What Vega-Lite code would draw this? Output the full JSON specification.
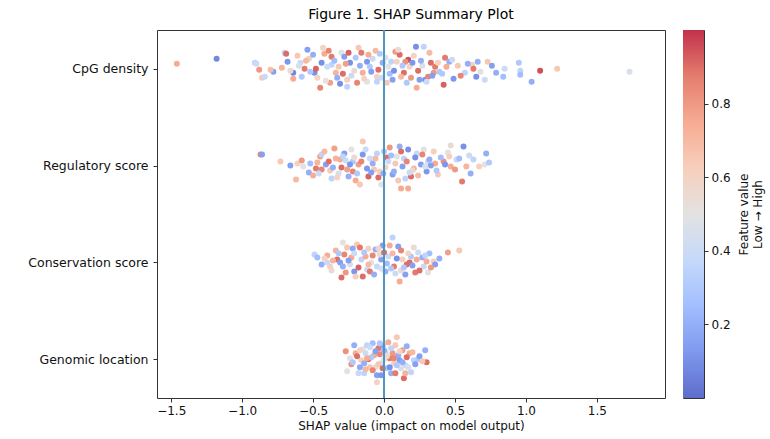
{
  "$schema": "https://vega.github.io/schema/vega-lite/v6.json",
  "autosize": {"type": "pad"},
  "padding": {"left": 27, "top": 7, "right": 5, "bottom": 5},
  "bounds": "flush",
  "spacing": 18,
  "config": {
    "font": "DejaVu Sans",
    "view": {"stroke": "#333333", "strokeWidth": 1},
    "axis": {"grid": false, "domain": false, "tickColor": "#333333", "tickSize": 4, "labelColor": "#111111", "titleColor": "#111111", "labelFontSize": 12, "titleFontSize": 12, "titleFontWeight": "normal"}
  },
  "datasets": {
    "shap": [
    {"f":"CpG density","x":-1.46,"j":-5,"v":0.75},{"f":"CpG density","x":-1.18,"j":-10,"v":0.08},{"f":"CpG density","x":-0.91,"j":-6,"v":0.35},{"f":"CpG density","x":-0.90,"j":-5,"v":0.4},{"f":"CpG density","x":-0.88,"j":1,"v":0.8},{"f":"CpG density","x":-0.86,"j":9,"v":0.65},{"f":"CpG density","x":-0.84,"j":8,"v":0.38},{"f":"CpG density","x":-0.78,"j":3,"v":0.15},{"f":"CpG density","x":-0.80,"j":1,"v":0.68},{"f":"CpG density","x":-0.72,"j":-1,"v":0.72},
    {"f":"CpG density","x":-0.70,"j":-16,"v":0.35},{"f":"CpG density","x":-0.69,"j":-15,"v":0.9},{"f":"CpG density","x":-0.68,"j":-7,"v":0.12},{"f":"CpG density","x":-0.64,"j":4,"v":0.08},{"f":"CpG density","x":-0.64,"j":10,"v":0.75},{"f":"CpG density","x":-0.61,"j":-13,"v":0.65},{"f":"CpG density","x":-0.59,"j":-6,"v":0.4},{"f":"CpG density","x":-0.56,"j":0,"v":0.88},{"f":"CpG density","x":-0.54,"j":-19,"v":0.15},{"f":"CpG density","x":-0.53,"j":-10,"v":0.62},
    {"f":"CpG density","x":-0.49,"j":4,"v":0.1},{"f":"CpG density","x":-0.48,"j":0,"v":0.92},{"f":"CpG density","x":-0.45,"j":19,"v":0.85},{"f":"CpG density","x":-0.43,"j":-21,"v":0.6},{"f":"CpG density","x":-0.42,"j":-15,"v":0.75},{"f":"CpG density","x":-0.38,"j":14,"v":0.78},{"f":"CpG density","x":-0.37,"j":-12,"v":0.88},{"f":"CpG density","x":-0.37,"j":-4,"v":0.35},{"f":"CpG density","x":-0.34,"j":4,"v":0.72},{"f":"CpG density","x":-0.30,"j":-16,"v":0.5},
    {"f":"CpG density","x":-0.29,"j":5,"v":0.9},{"f":"CpG density","x":-0.28,"j":-12,"v":0.15},{"f":"CpG density","x":-0.26,"j":18,"v":0.35},{"f":"CpG density","x":-0.26,"j":11,"v":0.62},{"f":"CpG density","x":-0.25,"j":-16,"v":0.92},{"f":"CpG density","x":-0.24,"j":-6,"v":0.1},{"f":"CpG density","x":-0.18,"j":-21,"v":0.65},{"f":"CpG density","x":-0.16,"j":-16,"v":0.88},{"f":"CpG density","x":-0.15,"j":4,"v":0.74},{"f":"CpG density","x":-0.12,"j":-7,"v":0.12},
    {"f":"CpG density","x":-0.12,"j":13,"v":0.5},{"f":"CpG density","x":-0.08,"j":-10,"v":0.4},{"f":"CpG density","x":-0.05,"j":8,"v":0.62},{"f":"CpG density","x":-0.03,"j":-15,"v":0.3},{"f":"CpG density","x":-0.01,"j":-6,"v":0.2},{"f":"CpG density","x":0.01,"j":-11,"v":0.45},{"f":"CpG density","x":0.03,"j":-2,"v":0.5},{"f":"CpG density","x":0.06,"j":11,"v":0.15},{"f":"CpG density","x":0.08,"j":-17,"v":0.8},{"f":"CpG density","x":0.09,"j":-7,"v":0.6},
    {"f":"CpG density","x":0.11,"j":-14,"v":0.9},{"f":"CpG density","x":0.14,"j":4,"v":0.9},{"f":"CpG density","x":0.16,"j":14,"v":0.3},{"f":"CpG density","x":0.17,"j":-9,"v":0.95},{"f":"CpG density","x":0.18,"j":-2,"v":0.6},{"f":"CpG density","x":0.20,"j":-6,"v":0.12},{"f":"CpG density","x":0.225,"j":-22,"v":0.1},{"f":"CpG density","x":0.23,"j":19,"v":0.75},{"f":"CpG density","x":0.25,"j":11,"v":0.15},{"f":"CpG density","x":0.28,"j":-22,"v":0.35},
    {"f":"CpG density","x":0.29,"j":11,"v":0.1},{"f":"CpG density","x":0.31,"j":8,"v":0.85},{"f":"CpG density","x":0.33,"j":-6,"v":0.9},{"f":"CpG density","x":0.36,"j":-2,"v":0.88},{"f":"CpG density","x":0.39,"j":3,"v":0.3},{"f":"CpG density","x":0.42,"j":16,"v":0.92},{"f":"CpG density","x":0.43,"j":-11,"v":0.88},{"f":"CpG density","x":0.46,"j":-7,"v":0.2},{"f":"CpG density","x":0.49,"j":10,"v":0.12},{"f":"CpG density","x":0.52,"j":-3,"v":0.65},
    {"f":"CpG density","x":0.57,"j":4,"v":0.35},{"f":"CpG density","x":0.62,"j":-4,"v":0.6},{"f":"CpG density","x":0.63,"j":0,"v":0.88},{"f":"CpG density","x":0.65,"j":8,"v":0.1},{"f":"CpG density","x":0.66,"j":-7,"v":0.2},{"f":"CpG density","x":0.71,"j":11,"v":0.4},{"f":"CpG density","x":0.73,"j":-7,"v":0.65},{"f":"CpG density","x":0.79,"j":4,"v":0.2},{"f":"CpG density","x":0.84,"j":8,"v":0.25},{"f":"CpG density","x":0.85,"j":0,"v":0.4},
    {"f":"CpG density","x":0.95,"j":-6,"v":0.3},{"f":"CpG density","x":0.96,"j":2,"v":0.35},{"f":"CpG density","x":0.96,"j":6,"v":0.25},{"f":"CpG density","x":1.04,"j":13,"v":0.2},{"f":"CpG density","x":1.10,"j":2,"v":0.95},{"f":"CpG density","x":1.22,"j":0,"v":0.65},{"f":"CpG density","x":1.73,"j":3,"v":0.45},{"f":"CpG density","x":-0.52,"j":3,"v":0.3},{"f":"CpG density","x":-0.40,"j":-2,"v":0.4},{"f":"CpG density","x":-0.33,"j":9,"v":0.2},
    {"f":"CpG density","x":-0.21,"j":2,"v":0.55},{"f":"CpG density","x":-0.10,"j":-2,"v":0.3},{"f":"CpG density","x":0.04,"j":5,"v":0.25},{"f":"CpG density","x":0.12,"j":8,"v":0.7},{"f":"CpG density","x":0.27,"j":-3,"v":0.45},{"f":"CpG density","x":-0.60,"j":-3,"v":0.45},{"f":"CpG density","x":0.35,"j":4,"v":0.8},{"f":"CpG density","x":-0.05,"j":13,"v":0.35},{"f":"CpG density","x":0.15,"j":-7,"v":0.82},
    {"f":"CpG density","x":-0.66,"j":2,"v":0.55},{"f":"CpG density","x":-0.58,"j":8,"v":0.3},{"f":"CpG density","x":-0.55,"j":-8,"v":0.7},{"f":"CpG density","x":-0.50,"j":-14,"v":0.2},{"f":"CpG density","x":-0.47,"j":9,"v":0.6},{"f":"CpG density","x":-0.44,"j":-6,"v":0.1},{"f":"CpG density","x":-0.41,"j":12,"v":0.5},{"f":"CpG density","x":-0.39,"j":-18,"v":0.85},{"f":"CpG density","x":-0.35,"j":-8,"v":0.25},{"f":"CpG density","x":-0.32,"j":-2,"v":0.65},
    {"f":"CpG density","x":-0.31,"j":15,"v":0.1},{"f":"CpG density","x":-0.27,"j":-5,"v":0.78},{"f":"CpG density","x":-0.23,"j":7,"v":0.4},{"f":"CpG density","x":-0.20,"j":-11,"v":0.3},{"f":"CpG density","x":-0.19,"j":14,"v":0.85},{"f":"CpG density","x":-0.17,"j":-3,"v":0.2},{"f":"CpG density","x":-0.14,"j":10,"v":0.6},{"f":"CpG density","x":-0.11,"j":-14,"v":0.75},{"f":"CpG density","x":-0.09,"j":3,"v":0.15},{"f":"CpG density","x":-0.06,"j":-18,"v":0.7},
    {"f":"CpG density","x":-0.04,"j":1,"v":0.9},{"f":"CpG density","x":-0.02,"j":9,"v":0.4},{"f":"CpG density","x":0.02,"j":14,"v":0.65},{"f":"CpG density","x":0.05,"j":-7,"v":0.35},{"f":"CpG density","x":0.07,"j":2,"v":0.1},{"f":"CpG density","x":0.10,"j":-19,"v":0.55},{"f":"CpG density","x":0.13,"j":-3,"v":0.3},{"f":"CpG density","x":0.19,"j":9,"v":0.8},{"f":"CpG density","x":0.21,"j":-13,"v":0.6},{"f":"CpG density","x":0.24,"j":2,"v":0.9},
    {"f":"CpG density","x":0.26,"j":-8,"v":0.2},{"f":"CpG density","x":0.30,"j":13,"v":0.4},{"f":"CpG density","x":0.32,"j":-16,"v":0.7},{"f":"CpG density","x":0.34,"j":7,"v":0.15},{"f":"CpG density","x":0.38,"j":-6,"v":0.6},{"f":"CpG density","x":0.41,"j":5,"v":0.3},{"f":"CpG density","x":0.44,"j":-2,"v":0.75},{"f":"CpG density","x":0.48,"j":-9,"v":0.4},{"f":"CpG density","x":0.54,"j":7,"v":0.85},{"f":"CpG density","x":0.59,"j":-5,"v":0.2},
    {"f":"CpG density","x":0.68,"j":3,"v":0.5},{"f":"CpG density","x":0.76,"j":-3,"v":0.15},

    {"f":"Regulatory score","x":-0.87,"j":-11,"v":0.85},{"f":"Regulatory score","x":-0.86,"j":-11,"v":0.15},{"f":"Regulatory score","x":-0.73,"j":-4,"v":0.65},{"f":"Regulatory score","x":-0.66,"j":0,"v":0.15},{"f":"Regulatory score","x":-0.62,"j":14,"v":0.7},{"f":"Regulatory score","x":-0.61,"j":-2,"v":0.62},{"f":"Regulatory score","x":-0.57,"j":1,"v":0.5},{"f":"Regulatory score","x":-0.53,"j":7,"v":0.2},{"f":"Regulatory score","x":-0.50,"j":10,"v":0.75},{"f":"Regulatory score","x":-0.48,"j":3,"v":0.88},
    {"f":"Regulatory score","x":-0.47,"j":-3,"v":0.72},{"f":"Regulatory score","x":-0.45,"j":-9,"v":0.78},{"f":"Regulatory score","x":-0.44,"j":-11,"v":0.35},{"f":"Regulatory score","x":-0.41,"j":-1,"v":0.15},{"f":"Regulatory score","x":-0.38,"j":5,"v":0.65},{"f":"Regulatory score","x":-0.37,"j":13,"v":0.35},{"f":"Regulatory score","x":-0.35,"j":-17,"v":0.78},{"f":"Regulatory score","x":-0.34,"j":-7,"v":0.72},{"f":"Regulatory score","x":-0.31,"j":-6,"v":0.75},{"f":"Regulatory score","x":-0.30,"j":2,"v":0.9},
    {"f":"Regulatory score","x":-0.28,"j":-12,"v":0.15},{"f":"Regulatory score","x":-0.27,"j":-5,"v":0.4},{"f":"Regulatory score","x":-0.25,"j":11,"v":0.2},{"f":"Regulatory score","x":-0.23,"j":-16,"v":0.5},{"f":"Regulatory score","x":-0.22,"j":6,"v":0.85},{"f":"Regulatory score","x":-0.20,"j":15,"v":0.75},{"f":"Regulatory score","x":-0.18,"j":-1,"v":0.78},{"f":"Regulatory score","x":-0.17,"j":19,"v":0.65},{"f":"Regulatory score","x":-0.15,"j":-24,"v":0.65},{"f":"Regulatory score","x":-0.15,"j":-11,"v":0.12},
    {"f":"Regulatory score","x":-0.12,"j":3,"v":0.12},{"f":"Regulatory score","x":-0.11,"j":11,"v":0.92},{"f":"Regulatory score","x":-0.10,"j":-7,"v":0.4},{"f":"Regulatory score","x":-0.08,"j":-2,"v":0.2},{"f":"Regulatory score","x":-0.05,"j":-12,"v":0.35},{"f":"Regulatory score","x":-0.03,"j":6,"v":0.62},{"f":"Regulatory score","x":-0.02,"j":19,"v":0.5},{"f":"Regulatory score","x":-0.005,"j":8,"v":0.2},{"f":"Regulatory score","x":0.02,"j":-8,"v":0.9},{"f":"Regulatory score","x":0.03,"j":-4,"v":0.4},
    {"f":"Regulatory score","x":0.06,"j":9,"v":0.15},{"f":"Regulatory score","x":0.08,"j":-2,"v":0.65},{"f":"Regulatory score","x":0.11,"j":-19,"v":0.2},{"f":"Regulatory score","x":0.12,"j":-14,"v":0.9},{"f":"Regulatory score","x":0.12,"j":23,"v":0.75},{"f":"Regulatory score","x":0.14,"j":-7,"v":0.35},{"f":"Regulatory score","x":0.15,"j":13,"v":0.35},{"f":"Regulatory score","x":0.17,"j":-16,"v":0.1},{"f":"Regulatory score","x":0.17,"j":23,"v":0.75},{"f":"Regulatory score","x":0.19,"j":11,"v":0.9},
    {"f":"Regulatory score","x":0.21,"j":3,"v":0.72},{"f":"Regulatory score","x":0.23,"j":-12,"v":0.38},{"f":"Regulatory score","x":0.26,"j":-1,"v":0.15},{"f":"Regulatory score","x":0.28,"j":-16,"v":0.5},{"f":"Regulatory score","x":0.30,"j":6,"v":0.12},{"f":"Regulatory score","x":0.31,"j":-4,"v":0.4},{"f":"Regulatory score","x":0.35,"j":-14,"v":0.62},{"f":"Regulatory score","x":0.36,"j":-2,"v":0.75},{"f":"Regulatory score","x":0.38,"j":9,"v":0.65},{"f":"Regulatory score","x":0.42,"j":-4,"v":0.82},
    {"f":"Regulatory score","x":0.45,"j":-13,"v":0.5},{"f":"Regulatory score","x":0.46,"j":-9,"v":0.62},{"f":"Regulatory score","x":0.47,"j":1,"v":0.75},{"f":"Regulatory score","x":0.47,"j":-20,"v":0.55},{"f":"Regulatory score","x":0.51,"j":-6,"v":0.38},{"f":"Regulatory score","x":0.53,"j":-7,"v":0.25},{"f":"Regulatory score","x":0.55,"j":16,"v":0.88},{"f":"Regulatory score","x":0.56,"j":-19,"v":0.1},{"f":"Regulatory score","x":0.58,"j":1,"v":0.72},{"f":"Regulatory score","x":0.61,"j":8,"v":0.2},
    {"f":"Regulatory score","x":0.63,"j":-6,"v":0.35},{"f":"Regulatory score","x":0.67,"j":1,"v":0.62},{"f":"Regulatory score","x":0.71,"j":-1,"v":0.5},{"f":"Regulatory score","x":0.72,"j":-12,"v":0.2},{"f":"Regulatory score","x":0.74,"j":-3,"v":0.3},{"f":"Regulatory score","x":-0.44,"j":4,"v":0.85},{"f":"Regulatory score","x":-0.22,"j":-4,"v":0.3},{"f":"Regulatory score","x":-0.07,"j":4,"v":0.65},{"f":"Regulatory score","x":0.05,"j":-10,"v":0.25},{"f":"Regulatory score","x":0.20,"j":5,"v":0.55},
    {"f":"Regulatory score","x":0.33,"j":0,"v":0.15},{"f":"Regulatory score","x":-0.32,"j":8,"v":0.45},{"f":"Regulatory score","x":0.40,"j":-8,"v":0.25},
    {"f":"Regulatory score","x":-0.58,"j":-5,"v":0.8},{"f":"Regulatory score","x":-0.52,"j":-2,"v":0.25},{"f":"Regulatory score","x":-0.46,"j":8,"v":0.4},{"f":"Regulatory score","x":-0.42,"j":-14,"v":0.7},{"f":"Regulatory score","x":-0.39,"j":-4,"v":0.9},{"f":"Regulatory score","x":-0.36,"j":2,"v":0.2},{"f":"Regulatory score","x":-0.33,"j":12,"v":0.6},{"f":"Regulatory score","x":-0.29,"j":-9,"v":0.35},{"f":"Regulatory score","x":-0.26,"j":4,"v":0.78},{"f":"Regulatory score","x":-0.24,"j":-1,"v":0.12},
    {"f":"Regulatory score","x":-0.21,"j":-8,"v":0.55},{"f":"Regulatory score","x":-0.19,"j":8,"v":0.3},{"f":"Regulatory score","x":-0.16,"j":-4,"v":0.85},{"f":"Regulatory score","x":-0.13,"j":-16,"v":0.4},{"f":"Regulatory score","x":-0.09,"j":7,"v":0.15},{"f":"Regulatory score","x":-0.06,"j":-7,"v":0.7},{"f":"Regulatory score","x":-0.04,"j":12,"v":0.9},{"f":"Regulatory score","x":0.00,"j":-14,"v":0.3},{"f":"Regulatory score","x":0.01,"j":2,"v":0.6},{"f":"Regulatory score","x":0.04,"j":-18,"v":0.8},
    {"f":"Regulatory score","x":0.07,"j":6,"v":0.2},{"f":"Regulatory score","x":0.09,"j":-9,"v":0.5},{"f":"Regulatory score","x":0.10,"j":15,"v":0.65},{"f":"Regulatory score","x":0.13,"j":1,"v":0.15},{"f":"Regulatory score","x":0.16,"j":-4,"v":0.85},{"f":"Regulatory score","x":0.18,"j":7,"v":0.4},{"f":"Regulatory score","x":0.22,"j":-8,"v":0.1},{"f":"Regulatory score","x":0.24,"j":10,"v":0.7},{"f":"Regulatory score","x":0.27,"j":-11,"v":0.85},{"f":"Regulatory score","x":0.29,"j":1,"v":0.45},
    {"f":"Regulatory score","x":0.32,"j":-6,"v":0.2},{"f":"Regulatory score","x":0.37,"j":5,"v":0.3},{"f":"Regulatory score","x":0.43,"j":-1,"v":0.12},{"f":"Regulatory score","x":0.50,"j":4,"v":0.8},{"f":"Regulatory score","x":0.60,"j":-10,"v":0.4},

    {"f":"Conservation score","x":-0.49,"j":-8,"v":0.35},{"f":"Conservation score","x":-0.47,"j":-5,"v":0.25},{"f":"Conservation score","x":-0.40,"j":-7,"v":0.75},{"f":"Conservation score","x":-0.40,"j":0,"v":0.38},{"f":"Conservation score","x":-0.38,"j":4,"v":0.62},{"f":"Conservation score","x":-0.34,"j":-12,"v":0.72},{"f":"Conservation score","x":-0.33,"j":-3,"v":0.9},{"f":"Conservation score","x":-0.31,"j":0,"v":0.15},{"f":"Conservation score","x":-0.30,"j":15,"v":0.9},{"f":"Conservation score","x":-0.29,"j":-20,"v":0.5},
    {"f":"Conservation score","x":-0.29,"j":4,"v":0.2},{"f":"Conservation score","x":-0.28,"j":-8,"v":0.85},{"f":"Conservation score","x":-0.26,"j":-15,"v":0.65},{"f":"Conservation score","x":-0.23,"j":-5,"v":0.75},{"f":"Conservation score","x":-0.22,"j":-14,"v":0.18},{"f":"Conservation score","x":-0.21,"j":9,"v":0.12},{"f":"Conservation score","x":-0.20,"j":14,"v":0.62},{"f":"Conservation score","x":-0.19,"j":-18,"v":0.65},{"f":"Conservation score","x":-0.17,"j":-15,"v":0.88},{"f":"Conservation score","x":-0.16,"j":-3,"v":0.35},
    {"f":"Conservation score","x":-0.15,"j":14,"v":0.9},{"f":"Conservation score","x":-0.13,"j":-6,"v":0.75},{"f":"Conservation score","x":-0.12,"j":7,"v":0.4},{"f":"Conservation score","x":-0.11,"j":-14,"v":0.62},{"f":"Conservation score","x":-0.10,"j":9,"v":0.88},{"f":"Conservation score","x":-0.09,"j":0,"v":0.5},{"f":"Conservation score","x":-0.06,"j":-13,"v":0.2},{"f":"Conservation score","x":-0.05,"j":4,"v":0.38},{"f":"Conservation score","x":-0.02,"j":-3,"v":0.15},{"f":"Conservation score","x":-0.01,"j":-17,"v":0.15},
    {"f":"Conservation score","x":0.01,"j":9,"v":0.2},{"f":"Conservation score","x":0.03,"j":-6,"v":0.4},{"f":"Conservation score","x":0.04,"j":-17,"v":0.75},{"f":"Conservation score","x":0.06,"j":-25,"v":0.35},{"f":"Conservation score","x":0.07,"j":4,"v":0.88},{"f":"Conservation score","x":0.10,"j":-16,"v":0.15},{"f":"Conservation score","x":0.11,"j":19,"v":0.75},{"f":"Conservation score","x":0.13,"j":-3,"v":0.62},{"f":"Conservation score","x":0.15,"j":12,"v":0.15},{"f":"Conservation score","x":0.16,"j":2,"v":0.9},
    {"f":"Conservation score","x":0.18,"j":0,"v":0.9},{"f":"Conservation score","x":0.21,"j":-15,"v":0.55},{"f":"Conservation score","x":0.22,"j":10,"v":0.88},{"f":"Conservation score","x":0.24,"j":-10,"v":0.4},{"f":"Conservation score","x":0.27,"j":-5,"v":0.2},{"f":"Conservation score","x":0.28,"j":4,"v":0.38},{"f":"Conservation score","x":0.30,"j":-1,"v":0.75},{"f":"Conservation score","x":0.31,"j":10,"v":0.5},{"f":"Conservation score","x":0.32,"j":-9,"v":0.25},{"f":"Conservation score","x":0.35,"j":-1,"v":0.62},
    {"f":"Conservation score","x":0.36,"j":2,"v":0.15},{"f":"Conservation score","x":0.45,"j":-10,"v":0.78},{"f":"Conservation score","x":0.53,"j":-12,"v":0.65},{"f":"Conservation score","x":-0.24,"j":2,"v":0.45},{"f":"Conservation score","x":0.05,"j":6,"v":0.3},{"f":"Conservation score","x":-0.03,"j":-8,"v":0.55},{"f":"Conservation score","x":0.19,"j":-6,"v":0.3},{"f":"Conservation score","x":-0.36,"j":-2,"v":0.72},{"f":"Conservation score","x":0.12,"j":8,"v":0.55},
    {"f":"Conservation score","x":-0.44,"j":2,"v":0.2},{"f":"Conservation score","x":-0.37,"j":8,"v":0.55},{"f":"Conservation score","x":-0.32,"j":-9,"v":0.3},{"f":"Conservation score","x":-0.27,"j":10,"v":0.8},{"f":"Conservation score","x":-0.25,"j":-2,"v":0.15},{"f":"Conservation score","x":-0.21,"j":-9,"v":0.4},{"f":"Conservation score","x":-0.18,"j":5,"v":0.92},{"f":"Conservation score","x":-0.14,"j":-10,"v":0.3},{"f":"Conservation score","x":-0.11,"j":2,"v":0.7},{"f":"Conservation score","x":-0.08,"j":-7,"v":0.85},
    {"f":"Conservation score","x":-0.07,"j":12,"v":0.2},{"f":"Conservation score","x":-0.04,"j":-14,"v":0.6},{"f":"Conservation score","x":-0.02,"j":6,"v":0.45},{"f":"Conservation score","x":0.00,"j":-10,"v":0.9},{"f":"Conservation score","x":0.02,"j":1,"v":0.25},{"f":"Conservation score","x":0.06,"j":-9,"v":0.7},{"f":"Conservation score","x":0.08,"j":11,"v":0.4},{"f":"Conservation score","x":0.09,"j":-4,"v":0.1},{"f":"Conservation score","x":0.12,"j":-12,"v":0.85},{"f":"Conservation score","x":0.14,"j":5,"v":0.3},
    {"f":"Conservation score","x":0.17,"j":-9,"v":0.6},{"f":"Conservation score","x":0.20,"j":3,"v":0.15},{"f":"Conservation score","x":0.23,"j":-3,"v":0.75},{"f":"Conservation score","x":0.25,"j":8,"v":0.9},{"f":"Conservation score","x":0.29,"j":-7,"v":0.35},{"f":"Conservation score","x":0.33,"j":5,"v":0.8},{"f":"Conservation score","x":0.39,"j":-4,"v":0.2},{"f":"Conservation score","x":-0.42,"j":-4,"v":0.6},

    {"f":"Genomic location","x":-0.27,"j":-8,"v":0.82},{"f":"Genomic location","x":-0.26,"j":12,"v":0.5},{"f":"Genomic location","x":-0.24,"j":-1,"v":0.5},{"f":"Genomic location","x":-0.23,"j":5,"v":0.82},{"f":"Genomic location","x":-0.21,"j":-14,"v":0.2},{"f":"Genomic location","x":-0.20,"j":-6,"v":0.75},{"f":"Genomic location","x":-0.18,"j":14,"v":0.38},{"f":"Genomic location","x":-0.17,"j":8,"v":0.18},{"f":"Genomic location","x":-0.16,"j":1,"v":0.62},{"f":"Genomic location","x":-0.15,"j":-10,"v":0.5},
    {"f":"Genomic location","x":-0.14,"j":14,"v":0.35},{"f":"Genomic location","x":-0.13,"j":-6,"v":0.4},{"f":"Genomic location","x":-0.12,"j":-14,"v":0.35},{"f":"Genomic location","x":-0.11,"j":0,"v":0.9},{"f":"Genomic location","x":-0.10,"j":8,"v":0.65},{"f":"Genomic location","x":-0.08,"j":-16,"v":0.25},{"f":"Genomic location","x":-0.07,"j":-4,"v":0.75},{"f":"Genomic location","x":-0.05,"j":23,"v":0.6},{"f":"Genomic location","x":-0.05,"j":16,"v":0.15},{"f":"Genomic location","x":-0.04,"j":-11,"v":0.88},
    {"f":"Genomic location","x":-0.02,"j":4,"v":0.4},{"f":"Genomic location","x":-0.02,"j":16,"v":0.12},{"f":"Genomic location","x":-0.01,"j":-14,"v":0.15},{"f":"Genomic location","x":0.01,"j":-7,"v":0.35},{"f":"Genomic location","x":0.03,"j":-17,"v":0.75},{"f":"Genomic location","x":0.04,"j":-1,"v":0.88},{"f":"Genomic location","x":0.05,"j":14,"v":0.2},{"f":"Genomic location","x":0.07,"j":4,"v":0.62},{"f":"Genomic location","x":0.08,"j":-14,"v":0.65},{"f":"Genomic location","x":0.08,"j":14,"v":0.88},
    {"f":"Genomic location","x":0.09,"j":-22,"v":0.65},{"f":"Genomic location","x":0.10,"j":-4,"v":0.2},{"f":"Genomic location","x":0.11,"j":1,"v":0.15},{"f":"Genomic location","x":0.13,"j":-9,"v":0.78},{"f":"Genomic location","x":0.14,"j":19,"v":0.9},{"f":"Genomic location","x":0.15,"j":14,"v":0.72},{"f":"Genomic location","x":0.15,"j":6,"v":0.38},{"f":"Genomic location","x":0.16,"j":-13,"v":0.2},{"f":"Genomic location","x":0.18,"j":-6,"v":0.75},{"f":"Genomic location","x":0.19,"j":13,"v":0.35},
    {"f":"Genomic location","x":0.21,"j":1,"v":0.35},{"f":"Genomic location","x":0.24,"j":0,"v":0.3},{"f":"Genomic location","x":0.25,"j":-3,"v":0.15},{"f":"Genomic location","x":0.29,"j":-9,"v":0.2},{"f":"Genomic location","x":0.30,"j":3,"v":0.9},{"f":"Genomic location","x":-0.06,"j":8,"v":0.55},{"f":"Genomic location","x":0.02,"j":9,"v":0.3},{"f":"Genomic location","x":-0.09,"j":-2,"v":0.3},{"f":"Genomic location","x":0.06,"j":-6,"v":0.8},{"f":"Genomic location","x":0.12,"j":9,"v":0.45},
    {"f":"Genomic location","x":-0.13,"j":10,"v":0.7},{"f":"Genomic location","x":0.00,"j":0,"v":0.5},{"f":"Genomic location","x":-0.03,"j":-5,"v":0.85},
    {"f":"Genomic location","x":-0.22,"j":3,"v":0.3},{"f":"Genomic location","x":-0.19,"j":-3,"v":0.9},{"f":"Genomic location","x":-0.17,"j":-9,"v":0.6},{"f":"Genomic location","x":-0.14,"j":4,"v":0.2},{"f":"Genomic location","x":-0.12,"j":-1,"v":0.75},{"f":"Genomic location","x":-0.10,"j":-12,"v":0.4},{"f":"Genomic location","x":-0.08,"j":11,"v":0.85},{"f":"Genomic location","x":-0.06,"j":-8,"v":0.15},{"f":"Genomic location","x":-0.04,"j":5,"v":0.65},{"f":"Genomic location","x":-0.03,"j":-16,"v":0.3},
    {"f":"Genomic location","x":-0.01,"j":9,"v":0.9},{"f":"Genomic location","x":0.00,"j":-9,"v":0.2},{"f":"Genomic location","x":0.02,"j":-3,"v":0.55},{"f":"Genomic location","x":0.04,"j":8,"v":0.1},{"f":"Genomic location","x":0.05,"j":-11,"v":0.35},{"f":"Genomic location","x":0.07,"j":-1,"v":0.85},{"f":"Genomic location","x":0.09,"j":6,"v":0.3},{"f":"Genomic location","x":0.11,"j":-8,"v":0.6},{"f":"Genomic location","x":0.13,"j":3,"v":0.2},{"f":"Genomic location","x":0.16,"j":-2,"v":0.9},
    {"f":"Genomic location","x":0.17,"j":8,"v":0.45},{"f":"Genomic location","x":0.20,"j":-7,"v":0.7},{"f":"Genomic location","x":0.22,"j":5,"v":0.15},{"f":"Genomic location","x":0.27,"j":2,"v":0.65}
    ],
    "cbar": [{"lo": 0, "hi": 1}]
  },
  "hconcat": [
    {
      "width": 508,
      "height": 368,
      "title": {"text": "Figure 1. SHAP Summary Plot", "fontSize": 14, "fontWeight": "normal", "color": "#000000", "anchor": "middle", "offset": 7, "font": "DejaVu Sans"},
      "data": {"name": "shap"},
      "layer": [
        {
          "mark": {"type": "circle", "size": 36, "opacity": 1},
          "encoding": {
            "x": {"field": "x", "type": "quantitative", "scale": {"domain": [-1.6, 1.98], "nice": false, "zero": false},
                  "axis": {"values": [-1.5, -1.0, -0.5, 0, 0.5, 1.0, 1.5], "labelExpr": "replace(format(datum.value, '.1f'), '-', '\u2212')", "title": "SHAP value (impact on model output)", "titlePadding": 4, "labelPadding": 3}},
            "y": {"field": "f", "type": "nominal", "sort": ["CpG density", "Regulatory score", "Conservation score", "Genomic location"],
                  "scale": {"type": "point", "padding": 0.4}, "axis": {"title": null, "labelFontSize": 12.5, "labelPadding": 5}},
            "yOffset": {"field": "j", "type": "quantitative", "scale": {"domain": [-30, 30], "range": [-30, 30]}},
            "color": {"field": "v", "type": "quantitative", "legend": null,
                      "scale": {"domain": [0, 1], "interpolate": "rgb", "range": ["#5e6ccb", "#7e99ee", "#a2befe", "#c5d9fa", "#e3e2e2", "#f7cfbc", "#f6ab92", "#e47d6d", "#c2314d"]}}
          }
        },
        {
          "mark": {"type": "rule", "color": "#4f97bf", "strokeWidth": 1.5},
          "encoding": {"x": {"datum": 0}}
        }
      ]
    },
    {
      "width": 21,
      "height": 368,
      "data": {"name": "cbar"},
      "mark": {"type": "rect", "color": {"gradient": "linear", "x1": 0, "y1": 1, "x2": 0, "y2": 0,
        "stops": [
          {"offset": 0, "color": "#5e6ccb"}, {"offset": 0.125, "color": "#7e99ee"}, {"offset": 0.25, "color": "#a2befe"}, {"offset": 0.375, "color": "#c5d9fa"}, {"offset": 0.5, "color": "#e3e2e2"}, {"offset": 0.625, "color": "#f7cfbc"}, {"offset": 0.75, "color": "#f6ab92"}, {"offset": 0.875, "color": "#e47d6d"}, {"offset": 1, "color": "#c2314d"}]}},
      "encoding": {
        "x": {"datum": 0, "type": "quantitative", "scale": {"domain": [0, 1], "nice": false}, "axis": null},
        "x2": {"datum": 1},
        "y": {"field": "lo", "type": "quantitative", "scale": {"domain": [0, 1], "nice": false},
              "axis": {"orient": "right", "values": [0.2, 0.4, 0.6, 0.8], "format": ".1f", "tickSize": 4, "labelPadding": 3, "labelFontSize": 12,
                       "title": ["Feature value", "Low \u2192 High"], "titleAngle": 270, "titleFontSize": 12, "titlePadding": 6, "titleBaseline": "bottom"}},
        "y2": {"field": "hi"}
      }
    }
  ]
}
